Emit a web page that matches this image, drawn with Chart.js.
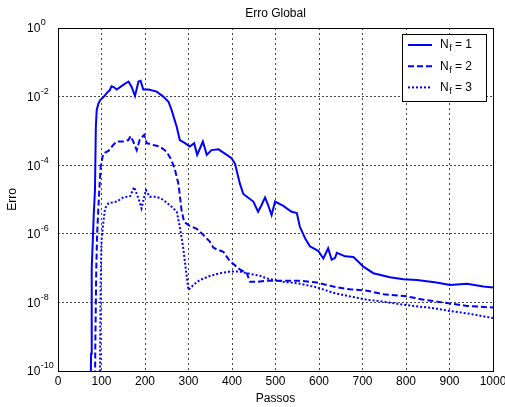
<!DOCTYPE html>
<html>
<head>
<meta charset="utf-8">
<title>Erro Global</title>
<script src="https://cdn.jsdelivr.net/npm/chart.js@4.4.0/dist/chart.umd.min.js"></script>
<style>
  html, body { margin: 0; padding: 0; background: #fff; }
  canvas { display: block; }
</style>
</head>
<body>
<canvas id="erroChart" width="505" height="407"></canvas>
<script>
// Global error per step, one curve per N_f
const stepsNf1 = [74, 76, 77, 78, 80, 82, 85, 87, 89, 93, 97, 104, 112, 119, 123, 128, 135, 150, 162, 169,
  177, 185, 190, 196, 208, 227, 242, 254, 261, 273, 280, 292, 303, 313, 320, 333, 342, 353, 369, 388,
  399, 407, 418, 426, 449, 460, 468, 476, 483, 491, 499, 518, 537, 549, 556, 568, 579, 598, 610, 621,
  629, 637, 641, 660, 679, 690, 702, 725, 763, 794, 825, 870, 901, 940, 978, 1000];
const errNf1 = [1e-12, 3.2e-10, 1e-8, 1e-7, 6.3e-7, 3.2e-6, 1.9e-5, 1.3e-3, 4.1e-3, 6.3e-3, 7.9e-3, 9.5e-3, 1.26e-2, 1.55e-2, 2.0e-2, 1.9e-2, 1.6e-2, 2.2e-2, 2.75e-2, 1.95e-2,
  1.05e-2, 2.75e-2, 2.9e-2, 1.6e-2, 1.6e-2, 1.4e-2, 1.0e-2, 7.1e-3, 4.1e-3, 1.3e-3, 5.4e-4, 4.4e-4, 3.5e-4, 4.4e-4, 2.0e-4, 4.9e-4, 2.0e-4, 2.75e-4, 2.9e-4, 2.0e-4,
  1.6e-4, 1.1e-4, 2.95e-5, 1.45e-5, 8.7e-6, 4.4e-6, 6.9e-6, 1.15e-5, 6.9e-6, 3.5e-6, 8.7e-6, 6.5e-6, 4.4e-6, 4.0e-6, 1.6e-6, 7.4e-7, 4.3e-7, 3.2e-7, 1.9e-7, 3.8e-7,
  1.74e-7, 2.0e-7, 2.8e-7, 2.2e-7, 2.1e-7, 1.55e-7, 1.1e-7, 7.1e-8, 5.4e-8, 4.7e-8, 4.5e-8, 3.8e-8, 3.2e-8, 3.5e-8, 2.9e-8, 2.7e-8];

const stepsNf2 = [84, 86, 88, 90, 93, 95, 98, 104, 116, 127, 135, 150, 162, 167, 173, 181, 188, 198, 204, 219,
  234, 250, 261, 269, 277, 284, 290, 303, 319, 334, 349, 357, 365, 380, 395, 407, 418, 434, 441, 460,
  480, 518, 556, 595, 633, 671, 710, 748, 802, 840, 901, 940, 1000];
const errNf2 = [1e-12, 1e-9, 1e-7, 1e-6, 6.3e-6, 1.9e-5, 9.1e-5, 2.2e-4, 2.6e-4, 3.9e-4, 4.9e-4, 4.9e-4, 5.4e-4, 7.1e-4, 4.9e-4, 2.75e-4, 5.6e-4, 7.6e-4, 4.4e-4, 3.9e-4,
  3.5e-4, 2.45e-4, 1.4e-4, 7.2e-5, 2.8e-5, 4.9e-6, 2.2e-6, 1.7e-6, 1.4e-6, 9.3e-7, 5.9e-7, 4.0e-7, 3.5e-7, 3.0e-7, 1.6e-7, 1.2e-7, 9.1e-8, 7.1e-8, 4.0e-8, 4.0e-8,
  4.3e-8, 4.3e-8, 4.3e-8, 3.8e-8, 2.9e-8, 2.4e-8, 2.2e-8, 1.74e-8, 1.5e-8, 1.2e-8, 9.3e-9, 7.9e-9, 7.1e-9];

const stepsNf3 = [96, 97, 98, 99, 100, 104, 108, 116, 135, 150, 166, 175, 185, 192, 202, 211, 227, 242, 261, 273,
  280, 288, 294, 300, 311, 326, 349, 372, 395, 418, 441, 464, 480, 518, 556, 595, 633, 671, 710, 748,
  802, 863, 901, 940, 1000];
const errNf3 = [1e-12, 1e-9, 3.2e-8, 1.6e-7, 6.6e-7, 2.0e-6, 5.5e-6, 7.8e-6, 8.7e-6, 1.15e-5, 1.26e-5, 2.3e-5, 1.07e-5, 5.5e-6, 1.9e-5, 1.2e-5, 1.2e-5, 9.8e-6, 6.2e-6, 4.4e-6,
  1.6e-6, 3.8e-7, 8.7e-8, 2.3e-8, 3.2e-8, 4.5e-8, 5.9e-8, 7.1e-8, 7.9e-8, 7.9e-8, 6.8e-8, 6.0e-8, 5.0e-8, 4.0e-8, 3.5e-8, 2.75e-8, 1.9e-8, 1.5e-8, 1.2e-8, 1.05e-8,
  8.3e-9, 6.8e-9, 5.6e-9, 4.8e-9, 3.5e-9];

const seriesLabels = ['N_f = 1', 'N_f = 2', 'N_f = 3'];
const xTicks = [0, 100, 200, 300, 400, 500, 600, 700, 800, 900, 1000];
const yTicks = [1e-10, 1e-8, 1e-6, 1e-4, 1e-2, 1];
const yTickExponents = ['-10', '-8', '-6', '-4', '-2', '0'];

const FONT = '"Liberation Sans", Arial, sans-serif';
const BLUE = '#0000ff';

const toPoints = (xs, ys) => xs.map((x, i) => ({ x: x, y: ys[i] }));

// draw "base" followed by a raised or lowered smaller part
function drawScripted(ctx, x, y, base, script, shift) {
    ctx.font = '12px ' + FONT;
    ctx.fillText(base, x, y);
    const w = ctx.measureText(base).width;
    ctx.font = '9px ' + FONT;
    ctx.fillText(script, x + w + 0.5, y + shift);
    return x + w + 0.5 + ctx.measureText(script).width;
}

// frame, tick labels, axis titles and the legend box
const decorations = {
    id: 'decorations',
    afterDraw(chart) {
        const { ctx, chartArea: a, scales } = chart;
        const xs = scales.x, ys = scales.y;
        ctx.save();
        ctx.setLineDash([]);
        ctx.strokeStyle = '#000';
        ctx.lineWidth = 1;
        ctx.strokeRect(a.left + 0.5, a.top + 0.5, a.right - a.left, a.bottom - a.top);

        ctx.fillStyle = '#000';
        ctx.textBaseline = 'middle';

        // x tick labels
        ctx.font = '12px ' + FONT;
        ctx.textAlign = 'center';
        xTicks.forEach(v => ctx.fillText(String(v), xs.getPixelForValue(v), a.bottom + 11));

        // y tick labels as 10^n
        ctx.textAlign = 'left';
        yTicks.forEach((v, i) => {
            const py = ys.getPixelForValue(v);
            drawScripted(ctx, 27, py + 1, '10', yTickExponents[i], -6);
        });

        // titles
        ctx.textAlign = 'center';
        ctx.font = '12px ' + FONT;
        ctx.fillText('Erro Global', (a.left + a.right) / 2, 14);
        ctx.fillText('Passos', (a.left + a.right) / 2, 399);
        ctx.save();
        ctx.translate(13, (a.top + a.bottom) / 2);
        ctx.rotate(-Math.PI / 2);
        ctx.fillText('Erro', 0, 0);
        ctx.restore();

        // legend
        const lx = 402.5, ly = 34.5, lw = 84, lh = 67;
        ctx.fillStyle = '#fff';
        ctx.fillRect(lx, ly, lw, lh);
        ctx.strokeStyle = '#000';
        ctx.strokeRect(lx, ly, lw, lh);
        ctx.textAlign = 'left';
        chart.data.datasets.forEach((ds, i) => {
            const ey = 45 + i * 21.2;
            ctx.strokeStyle = ds.borderColor;
            ctx.lineWidth = ds.borderWidth;
            ctx.setLineDash(ds.borderDash || []);
            ctx.beginPath();
            ctx.moveTo(408, ey);
            ctx.lineTo(432, ey);
            ctx.stroke();
            ctx.setLineDash([]);
            ctx.fillStyle = '#000';
            const [name, rest] = ds.label.split('_');
            const sub = rest.charAt(0);
            const tail = rest.slice(1);
            const end = drawScripted(ctx, 440, ey, name, sub, 4);
            ctx.font = '12px ' + FONT;
            ctx.fillText(tail, end, ey);
        });
        ctx.restore();
    }
};

const lineStyle = { borderColor: BLUE, borderWidth: 2, pointRadius: 0, tension: 0, fill: false };

new Chart(document.getElementById('erroChart'), {
    type: 'line',
    data: {
        datasets: [
            { ...lineStyle, label: seriesLabels[0], data: toPoints(stepsNf1, errNf1) },
            { ...lineStyle, label: seriesLabels[1], data: toPoints(stepsNf2, errNf2), borderDash: [6, 3] },
            { ...lineStyle, label: seriesLabels[2], data: toPoints(stepsNf3, errNf3), borderDash: [2, 2] }
        ]
    },
    options: {
        responsive: false,
        animation: false,
        devicePixelRatio: 1,
        layout: { padding: { left: 58, right: 12, top: 28, bottom: 36 } },
        plugins: { legend: { display: false }, tooltip: { enabled: false } },
        scales: {
            x: {
                type: 'linear', min: 0, max: 1000,
                afterBuildTicks: s => { s.ticks = xTicks.map(v => ({ value: v })); },
                afterFit: s => { s.height = 0; },
                ticks: { display: false },
                grid: { color: '#444', lineWidth: 1, drawTicks: false },
                border: { display: false, dash: [2, 3] }
            },
            y: {
                type: 'logarithmic', min: 1e-10, max: 1,
                afterBuildTicks: s => { s.ticks = yTicks.map(v => ({ value: v })); },
                afterFit: s => { s.width = 0; },
                ticks: { display: false },
                grid: { color: '#444', lineWidth: 1, drawTicks: false },
                border: { display: false, dash: [2, 2] }
            }
        }
    },
    plugins: [decorations]
});
</script>
</body>
</html>
